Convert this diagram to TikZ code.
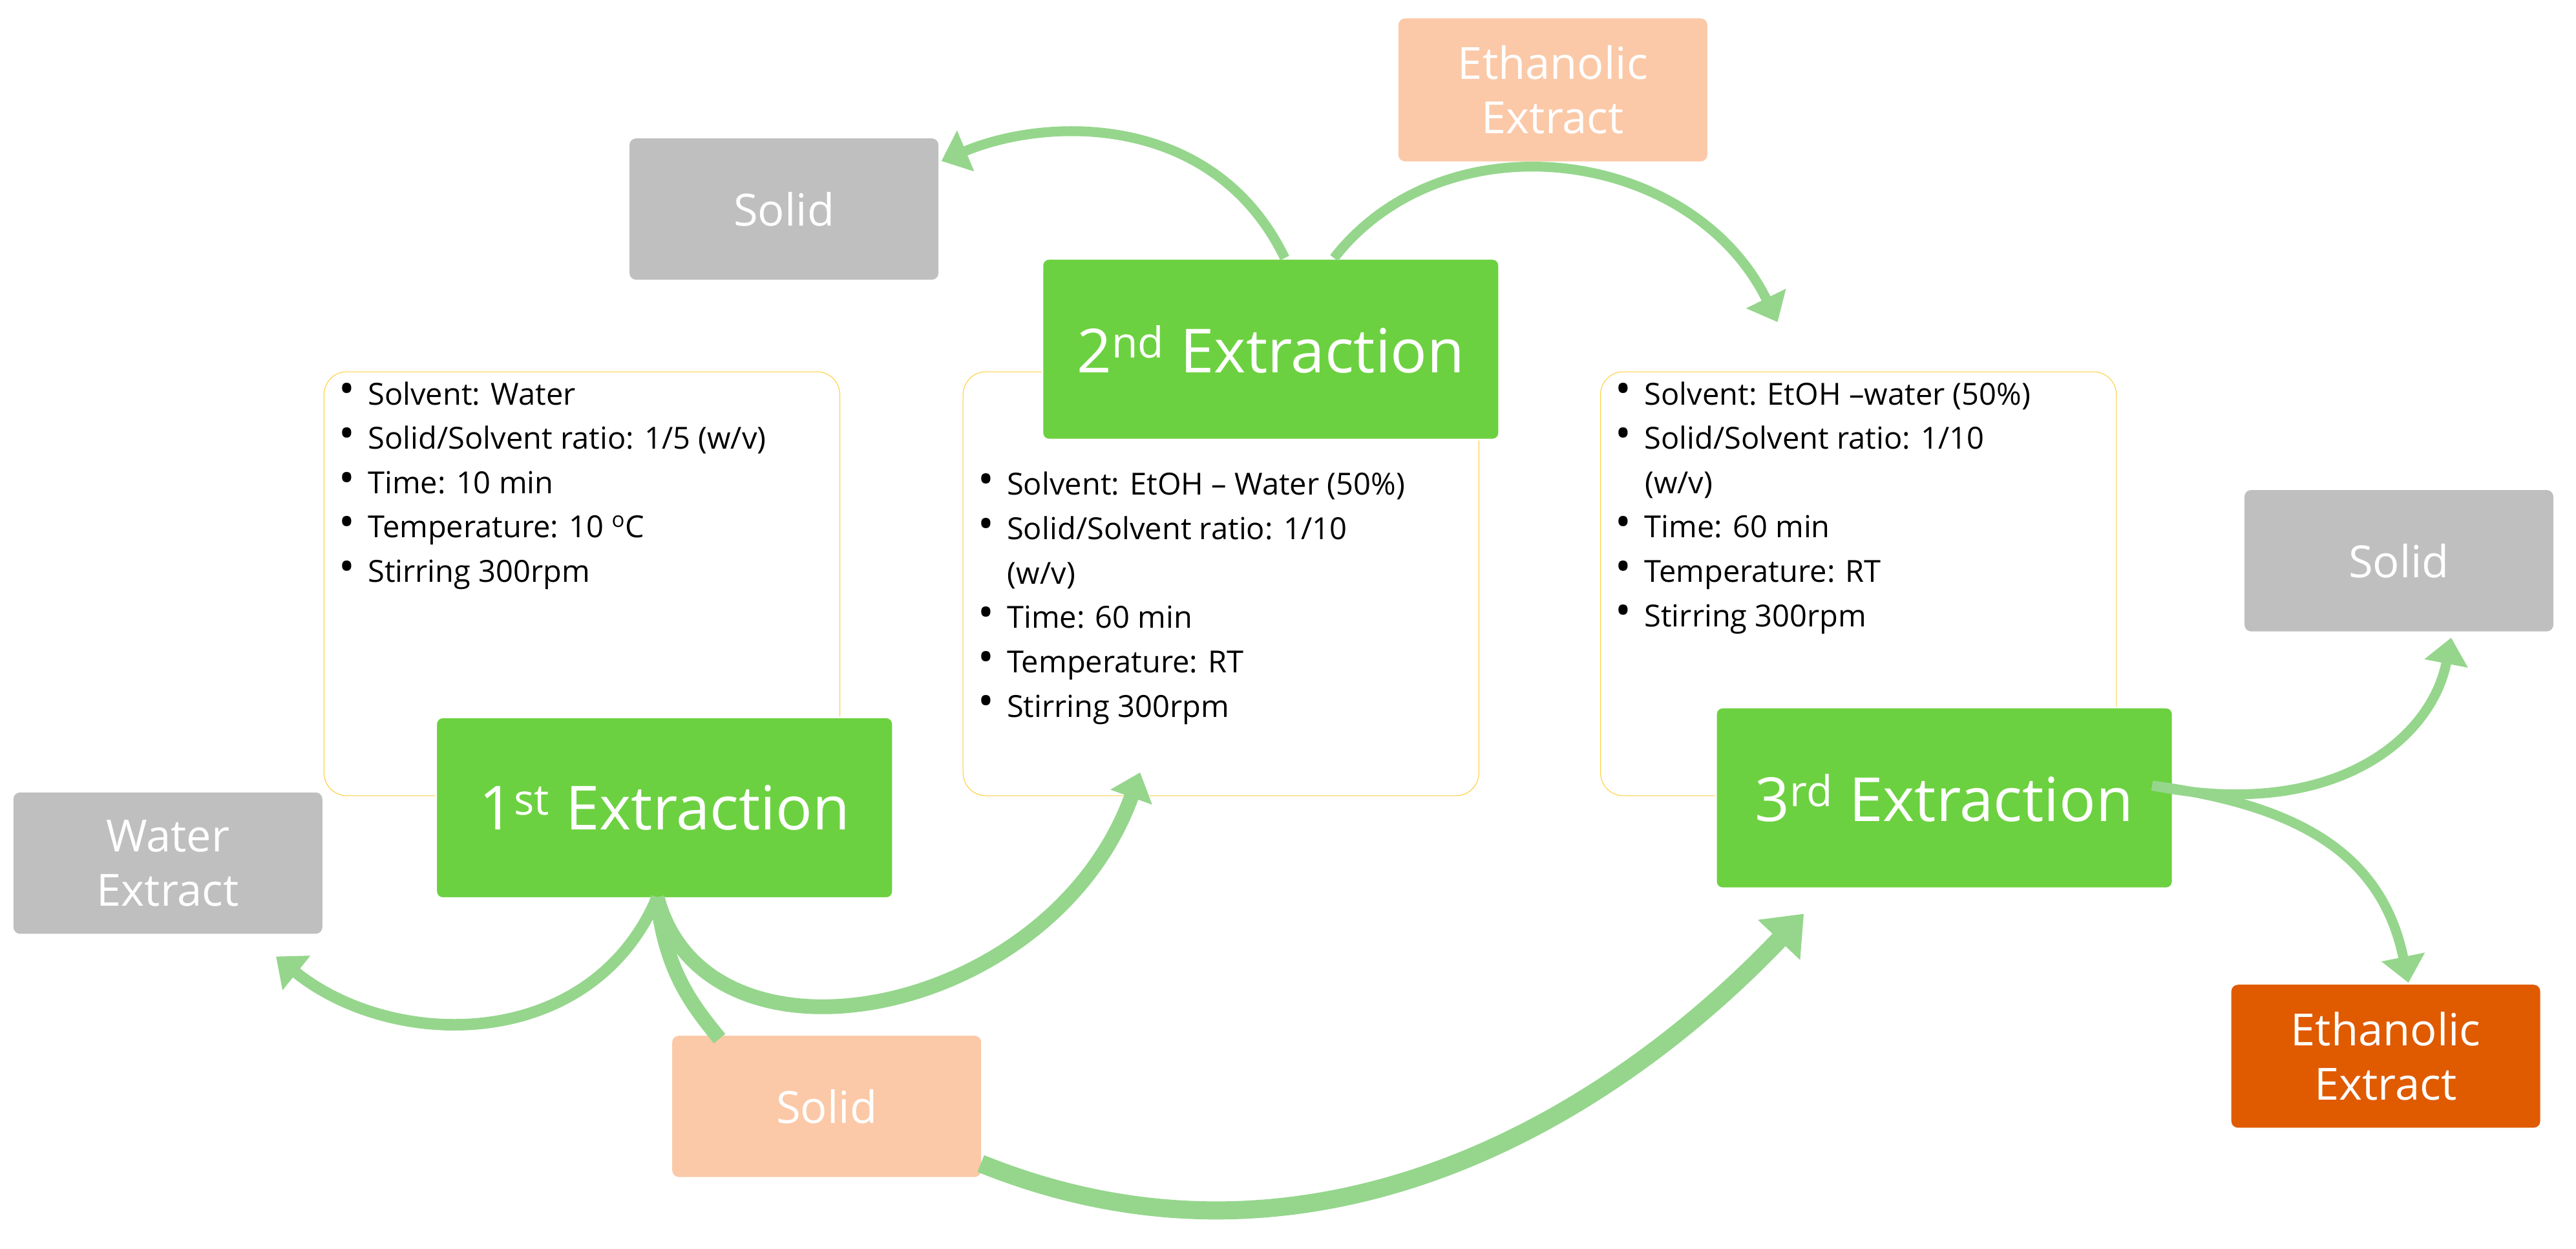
\documentclass[tikz,border=0pt]{standalone}
\usepackage{fontspec}
\setmainfont{Open Sans}
\usetikzlibrary{arrows.meta}
\definecolor{grn}{HTML}{6CD140}
\definecolor{arr}{HTML}{95D68C}
\definecolor{gry}{HTML}{BFBFBF}
\definecolor{lor}{HTML}{FBC9A8}
\definecolor{dor}{HTML}{E05A00}
\definecolor{yb}{HTML}{FFCC33}
\newcommand{\bul}{\raisebox{0.5pt}{\scalebox{1.4}{\textbullet}}\hspace{8pt}}
\begin{document}
\begin{tikzpicture}[x=1pt,y=-1pt,
 lab/.style={rounded corners=4pt,minimum width=188pt,minimum height=86pt,text=white,font=\fontsize{27}{33}\selectfont,align=center,anchor=north west,inner sep=0},
 ext/.style={lab,fill=grn,minimum width=278pt,minimum height=110pt,font=\fontsize{37}{40}\selectfont,draw=white,line width=1pt},
 info/.style={draw=yb,fill=white,rounded corners=14pt,minimum width=314pt,minimum height=258pt,anchor=north west,inner sep=0},
 txt/.style={anchor=north west,align=left,font=\fontsize{18.5}{27}\selectfont,inner sep=0},
 ar/.style={draw=arr,line width=7pt,-{Triangle[length=16pt,width=26pt]}},
 ln/.style={draw=arr,line width=9pt}]
\useasboundingbox (0,0) rectangle (1568,760);
\node[lab,fill=gry] (s1) at (383,84) {Solid};
\node[lab,fill=lor,minimum height=87pt] (e1) at (851,11) {Ethanolic\\Extract};
\node[info] (b1) at (197,226) {};
\node[info] (b2) at (586,226) {};
\node[info] (b3) at (974,226) {};
\node[txt] (t1) at (206,232) {\bul Solvent: Water\\ \bul Solid/Solvent ratio: 1/5 (w/v)\\ \bul Time: 10 min\\ \bul Temperature: 10 \textsuperscript{o}C\\ \bul Stirring 300rpm};
\node[txt] (t2) at (595,287) {\bul Solvent: EtOH -- Water (50\%)\\ \bul Solid/Solvent ratio: 1/10\\ \hspace{18pt}(w/v)\\ \bul Time: 60 min\\ \bul Temperature: RT\\ \bul Stirring 300rpm};
\node[txt] (t3) at (983,232) {\bul Solvent: EtOH --water (50\%)\\ \bul Solid/Solvent ratio: 1/10\\ \hspace{18pt}(w/v)\\ \bul Time: 60 min\\ \bul Temperature: RT\\ \bul Stirring 300rpm};
\node[ext] (x2) at (634,157) {2\textsuperscript{nd} Extraction};
\node[ext] (x1) at (265,436) {1\textsuperscript{st} Extraction};
\node[ext] (x3) at (1044,430) {3\textsuperscript{rd} Extraction};
\node[lab,fill=gry] (s3) at (1366,298) {Solid};
\node[lab,fill=dor,minimum height=87pt] (e3) at (1358,599) {Ethanolic\\Extract};
\node[lab,fill=gry] (w) at (8,482) {Water\\Extract};
\node[lab,fill=lor] (s0) at (409,630) {Solid};
\coordinate (c1) at (400,546);
\coordinate (wend) at (168,582);
\coordinate (b2end) at (694,470);
\coordinate (s0top) at (438,632);
\coordinate (s0out) at (597,708);
\coordinate (x3in) at (1098,556);
\coordinate (x2a) at (782,157);
\coordinate (x2b) at (812,157);
\coordinate (s1end) at (573,98);
\coordinate (e1end) at (1082,196);
\coordinate (x3r) at (1310,478);
\coordinate (s3end) at (1492,388);
\coordinate (e3end) at (1466,598);
\path[ar] (c1) .. controls (360,640) and (240,640) .. (wend);
\path[ar,line width=9pt] (c1) .. controls (430,660) and (640,620) .. (b2end);
\path[ln] (c1) .. controls (405,590) and (420,610) .. (s0top);
\path[ar,line width=11pt,-{Triangle[length=22pt,width=34pt]}] (s0out) .. controls (800,790) and (980,680) .. (x3in);
\path[ar,line width=6pt] (x2a) .. controls (740,70) and (640,70) .. (s1end);
\path[ar,line width=6pt] (x2b) .. controls (880,70) and (1030,90) .. (e1end);
\path[ar,line width=6pt] (x3r) .. controls (1420,500) and (1480,450) .. (s3end);
\path[ar,line width=6pt] (x3r) .. controls (1400,490) and (1450,520) .. (e3end);
\end{tikzpicture}
\end{document}
